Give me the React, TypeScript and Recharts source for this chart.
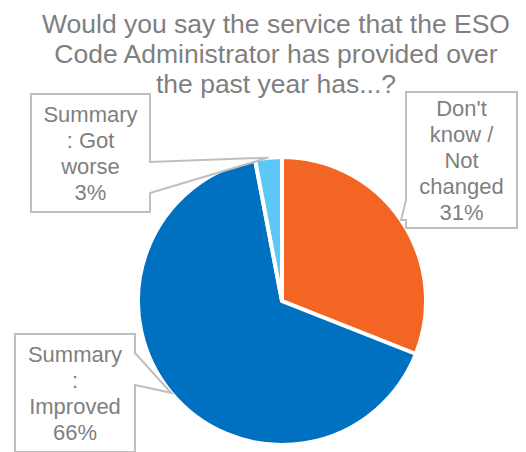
import { Pie, PieChart, Cell } from "recharts"

const categories = ["Don't know / Not changed", "Summary : Improved", "Summary : Got worse"]
const shares = [31, 66, 3]
const labelLines = [
  ["Don't", "know /", "Not", "changed"],
  ["Summary", ":", "Improved"],
  ["Summary", ": Got", "worse"],
]
const titleLines = [
  "Would you say the service that the ESO",
  "Code Administrator has provided over",
  "the past year has...?",
]

const colors = ["#F26522", "#0070C0", "#5BC8F5"]

// callout boxes, same order as the slices; pointer base given from box top
const boxes = [
  { x: 406, y: 92, w: 111, h: 136, side: "left", a: 108, b: 128 },
  { x: 15, y: 334, w: 120, h: 118, side: "right", a: 19, b: 51 },
  { x: 31, y: 94, w: 119, h: 118, side: "right", a: 68, b: 99 },
]

const data = categories.map((name, i) => ({ name, value: shares[i] }))

const FONT = '"Liberation Sans", Arial, sans-serif'
const GRAY = "#7f7f7f"
const RAD = Math.PI / 180

function Callout(props: any) {
  const { cx, cy, midAngle, outerRadius, index, value } = props
  const box = boxes[index]
  const tx = cx + outerRadius * Math.cos(-midAngle * RAD)
  const ty = cy + outerRadius * Math.sin(-midAngle * RAD)
  const { x, y, w, h, a, b } = box
  let d = ""
  if (box.side === "right") {
    d = `M${x},${y} L${x + w},${y} L${x + w},${y + a} L${tx},${ty} L${x + w},${y + b} L${x + w},${y + h} L${x},${y + h} Z`
  } else {
    d = `M${x},${y} L${x + w},${y} L${x + w},${y + h} L${x},${y + h} L${x},${y + b} L${tx},${ty} L${x},${y + a} Z`
  }
  const lines = [...labelLines[index], `${value}%`]
  const lh = 26
  const top = y + (h - lines.length * lh) / 2 + 21
  return (
    <g>
      <path d={d} fill="#fff" stroke="#bfbfbf" strokeWidth={2} />
      {lines.map((t, i) => (
        <text
          key={i}
          x={x + w / 2}
          y={top + i * lh}
          textAnchor="middle"
          fill={GRAY}
          fontSize={22}
          fontFamily={FONT}
        >
          {t}
        </text>
      ))}
    </g>
  )
}

export default function App() {
  return (
    <div style={{ position: "absolute", left: 0, top: 0, width: 526, height: 452, background: "#fff" }}>
      <PieChart width={526} height={452} margin={{ top: 0, right: 0, bottom: 0, left: 0 }}>
        <Pie
          data={data}
          dataKey="value"
          nameKey="name"
          cx={282}
          cy={301}
          outerRadius={144}
          startAngle={90}
          endAngle={-270}
          stroke="#fff"
          strokeWidth={4}
          label={Callout}
          labelLine={false}
          isAnimationActive={false}
        >
          {data.map((d, i) => (
            <Cell key={d.name} fill={colors[i]} />
          ))}
        </Pie>
      </PieChart>
      <div
        style={{
          position: "absolute",
          left: 0,
          top: 9,
          width: 552,
          textAlign: "center",
          fontFamily: FONT,
          fontSize: 26.5,
          lineHeight: "30px",
          color: GRAY,
        }}
      >
        {titleLines.map((t) => (
          <div key={t}>{t}</div>
        ))}
      </div>
    </div>
  )
}
